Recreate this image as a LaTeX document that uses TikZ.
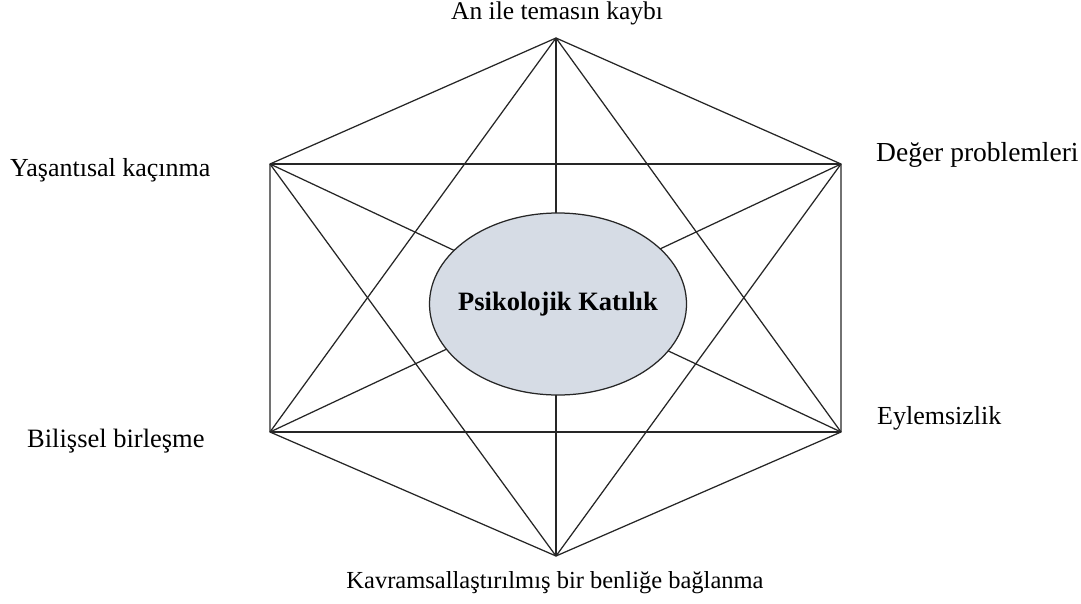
\documentclass[tikz,border=0pt]{standalone}
\usepackage{fontspec}
\setmainfont{Liberation Serif}
\usepackage{xcolor}
\usetikzlibrary{shapes.geometric}
\definecolor{corefill}{HTML}{D6DCE5}
\tikzset{
	edge/.style={line width=1.25pt,draw=black!85},
	label/.style={font=\fontsize{26}{30}\selectfont,inner sep=0pt}
}
\begin{document}
\begin{tikzpicture}[x=1pt,y=-1pt]
		\useasboundingbox (0,0) rectangle (1081,603);
		\coordinate (top) at (556,38); %六边形顶点
		\coordinate (ur) at (841,164);
		\coordinate (lr) at (841,432);
		\coordinate (bot) at (556,556);
		\coordinate (ll) at (270,432);
		\coordinate (ul) at (270,164);
		\draw [edge] (top)--(ur)--(lr)--(bot)--(ll)--(ul)--cycle; %外框
		\foreach \a/\b in {top/lr,top/bot,top/ll,ur/bot,ur/ll,ur/ul,lr/ll,lr/ul,bot/ul}
			\draw [edge] (\a)--(\b); %对角线
		\node [ellipse,draw=black!85,line width=1.25pt,fill=corefill,minimum width=257pt,minimum height=182pt,inner sep=0pt] (core) at (558,304) {}; %中心
		\node [font=\fontsize{26.5}{30}\selectfont\bfseries,inner sep=0pt] (coreText) at (core) {Psikolojik Katılık};
		\node [label,font=\fontsize{25.5}{30}\selectfont] (anTemas) at (557,13) {An ile temasın kaybı};
		\node [label,anchor=west,font=\fontsize{27.5}{30}\selectfont] (deger) at (876,155) {Değer problemleri};
		\node [label,anchor=west] (eylem) at (877,418) {Eylemsizlik};
		\node [label,font=\fontsize{24.5}{30}\selectfont] (benlik) at (555,583) {Kavramsallaştırılmış bir benliğe bağlanma};
		\node [label,anchor=west] (yasanti) at (10,170) {Yaşantısal kaçınma};
		\node [label,anchor=west,font=\fontsize{26.5}{30}\selectfont] (bilis) at (27,441) {Bilişsel birleşme};
	\end{tikzpicture}
\end{document}
